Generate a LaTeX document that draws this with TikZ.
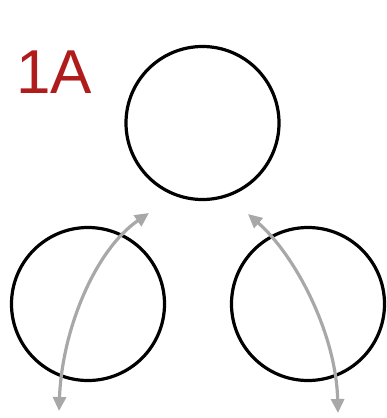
\documentclass[tikz,border=0pt]{standalone}
\usepackage{fontspec}
\setmainfont{Liberation Sans}
\usetikzlibrary{arrows.meta}
\definecolor{labelred}{HTML}{B01C1C}
\definecolor{arrowgray}{HTML}{A8A8A8}
\tikzset{
  ring/.style={circle, draw=black, line width=3.2pt, minimum size=153pt, inner sep=0pt},
  swing/.style={draw=arrowgray, line width=3.2pt, {Triangle[length=14pt,width=13pt]}-{Triangle[length=14pt,width=13pt]}},
  title/.style={text=labelred, font=\fontsize{62pt}{62pt}\selectfont, inner sep=0pt, anchor=base west}
}
\begin{document}
\begin{tikzpicture}[x=1pt,y=-1pt]
\useasboundingbox (0,0) rectangle (386,418);
\node[title] (lbl) at (16,93) {1A};
\node[ring] (top) at (202.5,123) {};
\node[ring] (left) at (88,304) {};
\node[ring] (right) at (308,304) {};
\coordinate (la) at (59,411);
\coordinate (lb) at (149,213);
\coordinate (ra) at (248,214);
\coordinate (rb) at (338,413);
\draw[swing] (la) .. controls (62,330) and (95,250) .. (lb);
\draw[swing] (rb) .. controls (336,333) and (295,255) .. (ra);
\end{tikzpicture}
\end{document}
